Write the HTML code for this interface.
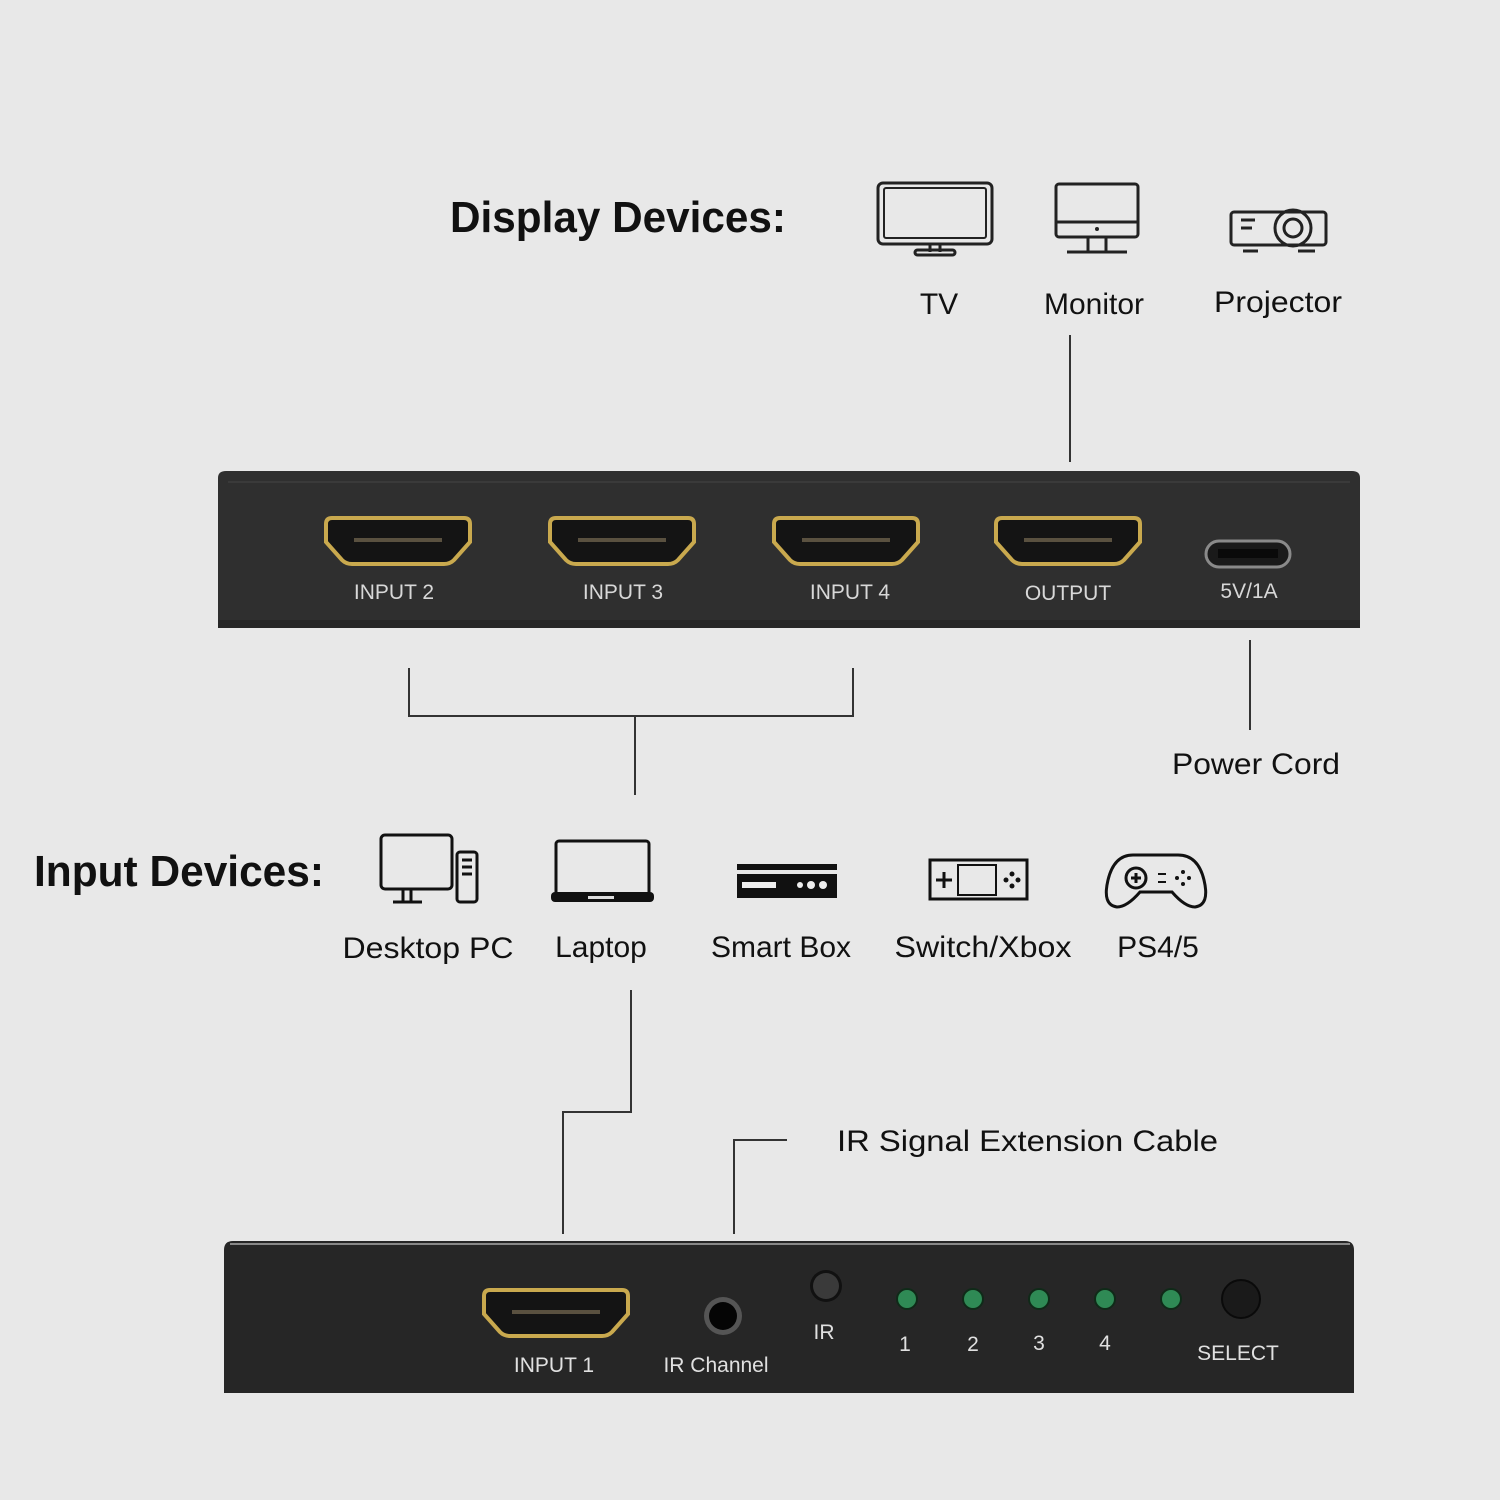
<!DOCTYPE html>
<html><head><meta charset="utf-8"><style>
html,body{margin:0;padding:0;background:#e8e8e8;}
svg{display:block;}
</style></head><body>
<svg width="1500" height="1500" viewBox="0 0 1500 1500" xmlns="http://www.w3.org/2000/svg" font-family="Liberation Sans, sans-serif">
<defs>
<g id="hdmi">
<path d="M6,0 H138 Q144,0 144,6 V24 L128,42 Q124,46 118,46 H26 Q20,46 16,42 L0,24 V6 Q0,0 6,0 Z" fill="#141414" stroke="#c9a94e" stroke-width="4"/>
<rect x="28" y="20" width="88" height="4" fill="#5a5140"/>
</g>
</defs>
<rect width="1500" height="1500" fill="#e8e8e8"/>

<text x="450" y="232" font-size="44" font-weight="bold" fill="#111" textLength="336" lengthAdjust="spacingAndGlyphs">Display Devices:</text>
<text x="34" y="886" font-size="44" font-weight="bold" fill="#111" textLength="290" lengthAdjust="spacingAndGlyphs">Input Devices:</text>

<g fill="none" stroke="#222" stroke-width="3">
<rect x="878" y="183" width="114" height="61" rx="5"/>
<rect x="884" y="188" width="102" height="50" rx="2" stroke-width="2"/>
<path d="M930,244 V252 M940,244 V252"/>
<rect x="915" y="250" width="40" height="5" rx="2.5"/>
<rect x="1056" y="184" width="82" height="53" rx="3"/>
<path d="M1056,222 H1138 M1088,237 V252 M1106,237 V252 M1067,252 H1127"/>
<rect x="1231" y="212" width="95" height="33" rx="3"/>
<circle cx="1293" cy="228" r="18"/><circle cx="1293" cy="228" r="9"/>
<path d="M1241,220 H1255 M1241,228 H1252 M1243,251 H1258 M1298,251 H1315"/>
</g>
<circle cx="1097" cy="229" r="2" fill="#222"/>
<g font-size="30" fill="#111" text-anchor="middle">
<text x="939" y="314">TV</text>
<text x="1094" y="314">Monitor</text>
<text x="1278" y="312" textLength="128" lengthAdjust="spacingAndGlyphs">Projector</text>
</g>
<line x1="1070" y1="335" x2="1070" y2="462" stroke="#333" stroke-width="2"/>

<path d="M218,478 Q218,471 226,471 H1352 Q1360,471 1360,478 V628 H218 Z" fill="#2f2f2f"/>
<rect x="218" y="620" width="1142" height="8" fill="#262626"/>
<line x1="228" y1="482" x2="1350" y2="482" stroke="#3a3a3a" stroke-width="2"/>
<use href="#hdmi" x="326" y="518"/>
<use href="#hdmi" x="550" y="518"/>
<use href="#hdmi" x="774" y="518"/>
<use href="#hdmi" x="996" y="518"/>
<rect x="1206" y="541" width="84" height="26" rx="13" fill="#1a1a1a" stroke="#8a8a8a" stroke-width="3"/>
<rect x="1218" y="549" width="60" height="9" fill="#0a0a0a"/>
<g font-size="21" fill="#d8d8d8" text-anchor="middle">
<text x="394" y="599">INPUT 2</text>
<text x="623" y="599">INPUT 3</text>
<text x="850" y="599">INPUT 4</text>
<text x="1068" y="600">OUTPUT</text>
<text x="1249" y="598">5V/1A</text>
</g>

<g stroke="#333" stroke-width="2" fill="none">
<path d="M409,668 V716 H853 V668 M635,716 V795"/>
<path d="M1250,640 V730"/>
<path d="M631,990 V1112 H563 V1234"/>
<path d="M787,1140 H734 V1234"/>
</g>
<text x="1256" y="774" font-size="30" fill="#111" text-anchor="middle" textLength="168" lengthAdjust="spacingAndGlyphs">Power Cord</text>

<g fill="none" stroke="#111" stroke-width="3">
<rect x="381" y="835" width="71" height="54" rx="4"/>
<path d="M403,889 V902 M411,889 V902 M393,902 H422"/>
<rect x="457" y="852" width="20" height="50" rx="3"/>
<path d="M462,860 H472 M462,867 H472 M462,874 H472"/>
<rect x="556" y="841" width="93" height="57" rx="3"/>
<rect x="930" y="860" width="97" height="39"/>
<rect x="958" y="865" width="38" height="30" stroke-width="2"/>
<path d="M936,880 H952 M944,872 V888"/>
<path d="M1133,855 H1178 Q1198,855 1204,880 Q1210,905 1195,907 Q1185,907 1172,892 H1140 Q1127,907 1117,907 Q1102,905 1108,880 Q1114,855 1133,855 Z"/>
<circle cx="1136" cy="878" r="10"/>
<path d="M1131,878 H1141 M1136,873 V883"/>
</g>
<rect x="551" y="892" width="103" height="10" rx="4" fill="#111"/>
<rect x="588" y="896" width="26" height="3" fill="#ddd"/>
<rect x="737" y="864" width="100" height="6" fill="#111"/>
<rect x="737" y="874" width="100" height="24" fill="#111"/>
<rect x="742" y="882" width="34" height="6" fill="#eee"/>
<circle cx="800" cy="885" r="3" fill="#eee"/><circle cx="811" cy="885" r="4" fill="#eee"/><circle cx="823" cy="885" r="4" fill="#eee"/>
<g fill="#111"><circle cx="1012" cy="874" r="2.5"/><circle cx="1012" cy="886" r="2.5"/><circle cx="1006" cy="880" r="2.5"/><circle cx="1018" cy="880" r="2.5"/>
<circle cx="1183" cy="872" r="2"/><circle cx="1183" cy="884" r="2"/><circle cx="1177" cy="878" r="2"/><circle cx="1189" cy="878" r="2"/>
<rect x="1158" y="873" width="8" height="2"/><rect x="1158" y="881" width="8" height="2"/></g>
<g font-size="30" fill="#111" text-anchor="middle">
<text x="428" y="958" textLength="171" lengthAdjust="spacingAndGlyphs">Desktop PC</text>
<text x="601" y="957">Laptop</text>
<text x="781" y="957">Smart Box</text>
<text x="983" y="957" textLength="177" lengthAdjust="spacingAndGlyphs">Switch/Xbox</text>
<text x="1158" y="957">PS4/5</text>
</g>
<text x="837" y="1151" font-size="30" fill="#111" textLength="381" lengthAdjust="spacingAndGlyphs">IR Signal Extension Cable</text>

<path d="M224,1250 Q224,1241 233,1241 H1345 Q1354,1241 1354,1250 V1393 H224 Z" fill="#262626"/>
<line x1="230" y1="1244" x2="1350" y2="1244" stroke="#888" stroke-width="2"/>
<use href="#hdmi" x="484" y="1290"/>
<circle cx="723" cy="1316" r="19" fill="#555"/>
<circle cx="723" cy="1316" r="14" fill="#050505"/>
<circle cx="826" cy="1286" r="16" fill="#111"/>
<circle cx="826" cy="1286" r="13" fill="#3a3a3a"/>
<g fill="#2f8a55" stroke="#0f2a18" stroke-width="2">
<circle cx="907" cy="1299" r="10"/><circle cx="973" cy="1299" r="10"/><circle cx="1039" cy="1299" r="10"/><circle cx="1105" cy="1299" r="10"/><circle cx="1171" cy="1299" r="10"/>
</g>
<circle cx="1241" cy="1299" r="19" fill="#1a1a1a" stroke="#0a0a0a" stroke-width="2"/>
<g font-size="21" fill="#e0e0e0" text-anchor="middle">
<text x="554" y="1372">INPUT 1</text>
<text x="716" y="1372">IR Channel</text>
<text x="824" y="1339">IR</text>
<text x="905" y="1351">1</text>
<text x="973" y="1351">2</text>
<text x="1039" y="1350">3</text>
<text x="1105" y="1350">4</text>
<text x="1238" y="1360">SELECT</text>
</g>
</svg>
</body></html>
